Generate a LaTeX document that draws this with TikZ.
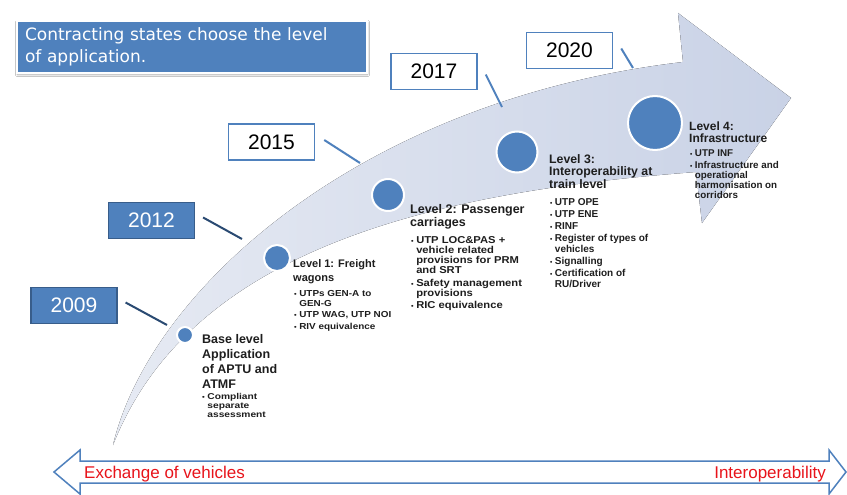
\documentclass[tikz,border=0pt]{standalone}
\usepackage{fontspec}
\setmainfont{Liberation Sans}
\newfontfamily\dvs{DejaVu Sans}
\usetikzlibrary{shadows.blur}
\definecolor{pblue}{HTML}{4F81BD}
\definecolor{pdark}{HTML}{385D8A}
\definecolor{navy}{HTML}{2A4A72}
\definecolor{bandc}{HTML}{C9D2E6}
\definecolor{bandlight}{HTML}{E6EAF3}
\definecolor{pred}{HTML}{E8141B}
\definecolor{txt}{HTML}{1E1E1E}
\newcommand\Ttab[1]{\begin{tabular}[t]{@{}l@{}}#1\end{tabular}}
\newcommand\Btab[1]{\begin{tabular}[t]{@{}l@{\hspace{2.5pt}}l@{}}#1\end{tabular}}
\newcommand\bu{{\fontsize{6.5}{6.5}\selectfont •}}
\begin{document}
\begin{tikzpicture}[x=1pt,y=-1pt,
  yearbox/.style={draw=pdark, line width=1.2pt, fill=pblue, text=white,
    minimum width=86pt, minimum height=36pt, inner sep=0pt,
    font=\fontsize{21}{21}\selectfont},
  yearwhite/.style={yearbox, draw=pblue, fill=white, text=black, line width=1.5pt},
  lvdot/.style={circle, fill=pblue, draw=white, line width=2pt, inner sep=0pt},
  connl/.style={line width=2pt, draw=pblue},
  conndk/.style={line width=2pt, draw=navy},
  lvtitle/.style={anchor=base west, inner sep=0pt, text=txt},
  lvlist/.style={anchor=base west, inner sep=0pt, text=txt},
  redtext/.style={text=pred, inner sep=0pt, font=\fontsize{17}{17}\selectfont},
]
\useasboundingbox (0,0) rectangle (847,495);
\fill[white] (0,0) rectangle (847,495);

% big curved arrow
\fill[left color=bandlight, right color=bandc]
  (113,445) .. controls (150,290) and (360,100) .. (683,62)
  -- (678,13) -- (791,98) -- (702,223) -- (696,172)
  .. controls (430,192) and (190,250) .. (113,445) -- cycle;

% title box
\node[draw=white, line width=1.5pt, fill=pblue, text=white,
      minimum width=350pt, minimum height=52pt, text width=334pt, align=left,
      inner xsep=8pt, inner ysep=0pt,
      blur shadow={shadow blur steps=6, shadow xshift=0.5pt, shadow yshift=-1.5pt, shadow opacity=35},
      font=\dvs\fontsize{17}{22}\selectfont] (head) at (192,47)
  {Contracting states choose the level\\of application.};

% year boxes
\node[yearbox] (y09) at (74,305.5) {2009};
\node[yearbox] (y12) at (151.5,220.5) {2012};
\node[yearwhite] (y15) at (271.5,142) {2015};
\node[yearwhite] (y17) at (434,71.5) {2017};
\node[yearwhite] (y20) at (569.5,50.5) {2020};

\coordinate (c09) at (167,325);
\coordinate (c12) at (242,239);
\coordinate (c15) at (360,163);
\coordinate (c17) at (502,107);
\coordinate (c20) at (633,68);

\draw[conndk] ([xshift=8pt,yshift=3pt]y09.east) -- (c09);
\draw[conndk] ([xshift=8pt,yshift=3pt]y12.east) -- (c12);
\draw[connl] ([xshift=9pt,yshift=2pt]y15.east) -- (c15);
\draw[connl] ([xshift=8pt,yshift=-3pt]y17.east) -- (c17);
\draw[connl] ([xshift=8pt,yshift=2pt]y20.east) -- (c20);

% circles
\node[lvdot, minimum size=16pt] (d0) at (185,335) {};
\node[lvdot, minimum size=26pt] (d1) at (277,258) {};
\node[lvdot, minimum size=32pt] (d2) at (388,195) {};
\node[lvdot, minimum size=41pt] (d3) at (517,152) {};
\node[lvdot, minimum size=54pt] (d4) at (655,123) {};

% base level
\node[lvtitle, font=\bfseries\fontsize{12.5}{15.3}\selectfont] (t0) at (202,343)
  {\Ttab{Base level\\Application\\of APTU and\\ATMF}};
\node[lvlist, font=\bfseries\addfontfeatures{FakeStretch=1.2}\fontsize{8.5}{9}\selectfont] (b0) at (202,399)
  {\Btab{\bu & Compliant\\ & separate\\ & assessment}};

% level 1
\node[lvtitle, font=\bfseries\fontsize{11}{14}\selectfont] (t1) at (293,267)
  {\Ttab{Level 1: Freight\\wagons}};
\node[lvlist, font=\bfseries\addfontfeatures{FakeStretch=1.14}\fontsize{8.7}{10}\selectfont] (b1) at (294,296)
  {\Btab{\bu & UTPs GEN-A to\\ & GEN-G\\[1.5pt] \bu & UTP WAG, UTP NOI\\[1.5pt] \bu & RIV equivalence}};

% level 2
\node[lvtitle, font=\bfseries\fontsize{12.5}{13}\selectfont] (t2) at (410,213)
  {\Ttab{Level 2: Passenger\\carriages}};
\node[lvlist, font=\bfseries\addfontfeatures{FakeStretch=1.12}\fontsize{10}{9.6}\selectfont] (b2) at (411,243)
  {\Btab{\bu & UTP LOC\&PAS +\\ & vehicle related\\ & provisions for PRM\\ & and SRT\\[2.5pt] \bu & Safety management\\ & provisions\\[2.5pt] \bu & RIC equivalence}};

% level 3
\node[lvtitle, font=\bfseries\fontsize{12.3}{12.8}\selectfont] (t3) at (549,163)
  {\Ttab{Level 3:\\Interoperability at\\train level}};
\node[lvlist, font=\bfseries\fontsize{10}{11}\selectfont] (b3) at (550,205)
  {\Btab{\bu & UTP OPE\\[1pt] \bu & UTP ENE\\[1pt] \bu & RINF\\[1pt] \bu & Register of types of\\ & vehicles\\[1pt] \bu & Signalling\\[1pt] \bu & Certification of\\ & RU/Driver}};

% level 4
\node[lvtitle, font=\bfseries\fontsize{12}{12.5}\selectfont] (t4) at (689,130)
  {\Ttab{Level 4:\\Infrastructure}};
\node[lvlist, font=\bfseries\fontsize{9.8}{10}\selectfont] (b4) at (690,157)
  {\Btab{\bu & UTP INF\\[1.5pt] \bu & Infrastructure and\\ & operational\\ & harmonisation on\\ & corridors}};

% bottom double arrow
\draw[pblue, line width=1.5pt, fill=white, line join=miter]
  (54,472) -- (80,450) -- (80,461) -- (829,461) -- (829,450) -- (846,472)
  -- (829,494) -- (829,483) -- (80,483) -- (80,494) -- cycle;
\node[redtext, anchor=base west] (ex) at (84,478) {Exchange of vehicles};
\node[redtext, anchor=base east] (io) at (826,478) {Interoperability};
\end{tikzpicture}
\end{document}
